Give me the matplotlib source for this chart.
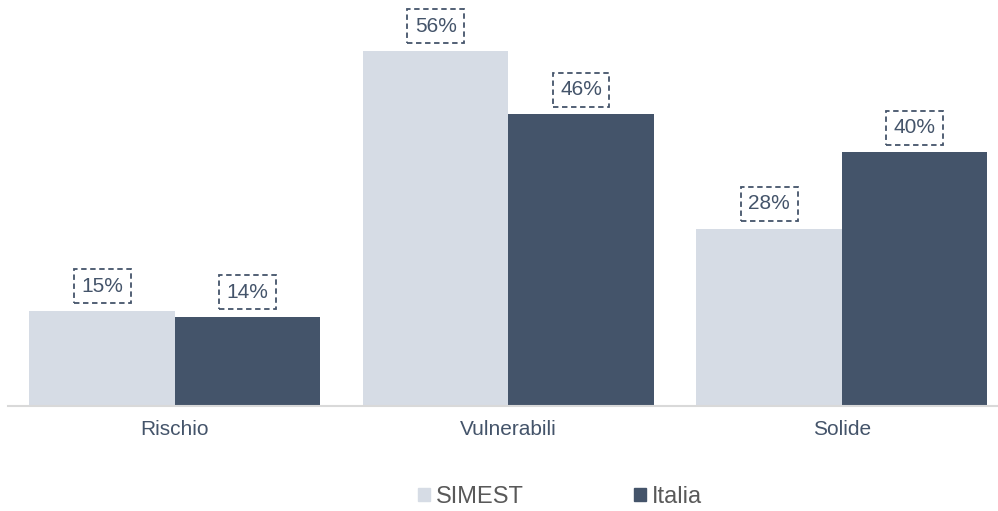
import numpy as np
import matplotlib.pyplot as plt
from matplotlib.patches import Patch

plt.rcParams['font.family'] = ['Liberation Sans', 'DejaVu Sans']

categorie = ['Rischio', 'Vulnerabili', 'Solide']
serie = ['SIMEST', 'Italia']
simest = [15, 56, 28]
italia = [14, 46, 40]
colori = ['#D6DCE5', '#44546A']
testo = '#44546A'
grigio = '#595959'

fig = plt.figure(figsize=(9.98, 5.11), dpi=100)
ax = fig.add_axes([8/998, 105/511, 989/998, 355/511])

x = np.arange(len(categorie))
w = 0.436
b1 = ax.bar(x - w/2, simest, w, color=colori[0], label=serie[0])
b2 = ax.bar(x + w/2, italia, w, color=colori[1], label=serie[1])

# etichette con riquadro tratteggiato
for barre in (b1, b2):
    for r in barre:
        v = r.get_height()
        ax.annotate(f"{v:.0f}%", (r.get_x() + r.get_width()/2, v),
                    xytext=(0, 11), textcoords='offset points',
                    ha='center', va='bottom', fontsize=15, color=testo,
                    bbox=dict(boxstyle='square,pad=0.36', fc='white',
                              ec=testo, ls=(0, (3, 2)), lw=1.3))

ax.set_xlim(-0.5, 2.465)
ax.set_ylim(0, 56)
ax.set_xticks(x)
ax.set_xticklabels(categorie, fontsize=15, color=testo)
ax.tick_params(axis='x', length=0, pad=10)
ax.set_yticks([])
for s in ['top', 'right', 'left']:
    ax.spines[s].set_visible(False)
ax.spines['bottom'].set_color('#D9D9D9')
ax.spines['bottom'].set_linewidth(1.5)

maniglie = [Patch(color=colori[0]), Patch(color=colori[1])]
fig.legend(maniglie, serie, loc='center', bbox_to_anchor=(560/998, 1 - 497/511),
           ncol=2, frameon=False, fontsize=17, handlelength=0.5,
           handleheight=0.5, handletextpad=0.25, columnspacing=4.7,
           labelcolor=grigio)

fig.savefig('out.png', dpi=100)
